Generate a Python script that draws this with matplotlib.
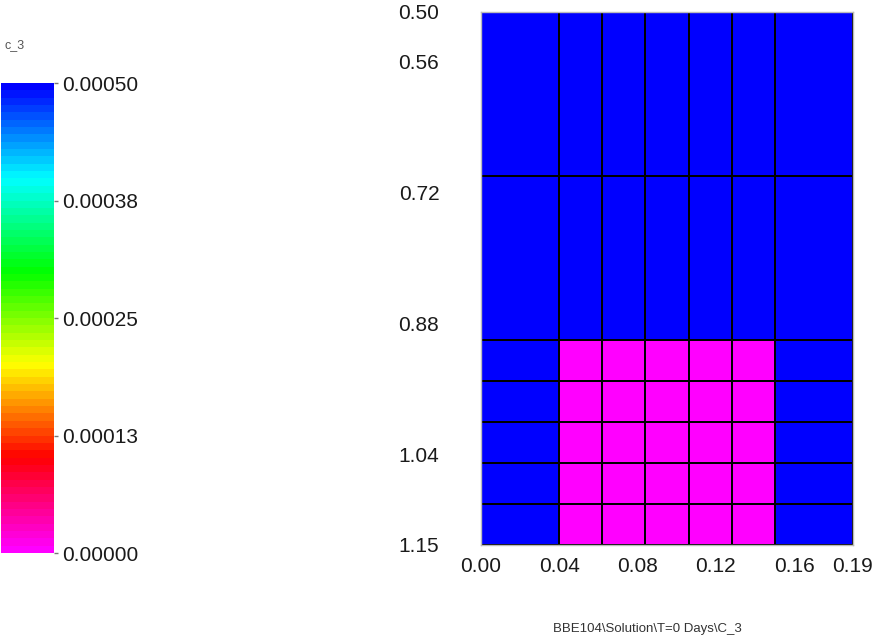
import numpy as np
import matplotlib
matplotlib.use("Agg")
import matplotlib.pyplot as plt
from matplotlib.colors import LinearSegmentedColormap

# cell edges of the grid
x_edges = [0.0, 0.04, 0.062, 0.084, 0.106, 0.128, 0.15, 0.19]
y_edges = [0.50, 0.70, 0.90, 0.95, 1.00, 1.05, 1.10, 1.15]

# C_3 per cell (rows top -> bottom, columns left -> right)
c3 = [
    [0.0005, 0.0005, 0.0005, 0.0005, 0.0005, 0.0005, 0.0005],
    [0.0005, 0.0005, 0.0005, 0.0005, 0.0005, 0.0005, 0.0005],
    [0.0005, 0.0, 0.0, 0.0, 0.0, 0.0, 0.0005],
    [0.0005, 0.0, 0.0, 0.0, 0.0, 0.0, 0.0005],
    [0.0005, 0.0, 0.0, 0.0, 0.0, 0.0, 0.0005],
    [0.0005, 0.0, 0.0, 0.0, 0.0, 0.0, 0.0005],
    [0.0005, 0.0, 0.0, 0.0, 0.0, 0.0, 0.0005],
]

x_ticks = [0.00, 0.04, 0.08, 0.12, 0.16, 0.19]
y_ticks = [0.50, 0.56, 0.72, 0.88, 1.04, 1.15]
cb_ticks = [0.0, 0.000125, 0.00025, 0.000375, 0.0005]
cb_labels = ["0.00000", "0.00013", "0.00025", "0.00038", "0.00050"]

plt.rcParams['font.family'] = ['Liberation Sans', 'DejaVu Sans']
txt = '#1a1a1a'

cmap = LinearSegmentedColormap.from_list(
    "rainbow_c3",
    [(0.0, "#ff00ff"), (0.2, "#ff0000"), (0.4, "#ffff00"),
     (0.6, "#00ff00"), (0.8, "#00ffff"), (1.0, "#0000ff")], N=64)

fig = plt.figure(figsize=(8.75, 6.38), dpi=100)
ax = fig.add_axes([0.5497, 0.1458, 0.4251, 0.8354])

mesh = ax.pcolormesh(x_edges, y_edges, np.array(c3), cmap=cmap, vmin=0, vmax=0.0005,
                     edgecolors='black', linewidth=1.2)
ax.set_xlim(x_edges[0], x_edges[-1])
ax.set_ylim(y_edges[-1], y_edges[0])
ax.set_xticks(x_ticks)
ax.set_xticklabels([f"{v:.2f}" for v in x_ticks])
ax.set_yticks(y_ticks)
ax.set_yticklabels([f"{v:.2f}" for v in y_ticks])
ax.tick_params(axis='both', length=0, labelsize=15, colors=txt)
ax.tick_params(axis='y', pad=30)
ax.tick_params(axis='x', pad=9)
for s in ax.spines.values():
    s.set_color('#bbbbbb')
    s.set_linewidth(1.0)

cax = fig.add_axes([0.001, 0.1332, 0.0606, 0.7367])
cb = fig.colorbar(mesh, cax=cax)
cb.set_ticks(cb_ticks)
cb.set_ticklabels(cb_labels)
cb.outline.set_visible(False)
cax.tick_params(length=3, width=1, color='#777777', labelsize=15, labelcolor=txt, pad=3)

fig.text(0.005, 0.93, "c_3", fontsize=9, color='#555555', va='center')
fig.text(0.740, 0.014, "BBE104\\Solution\\T=0 Days\\C_3", fontsize=9.5, color='#333333',
         ha='center', va='center')

fig.savefig("out.png", dpi=100)
